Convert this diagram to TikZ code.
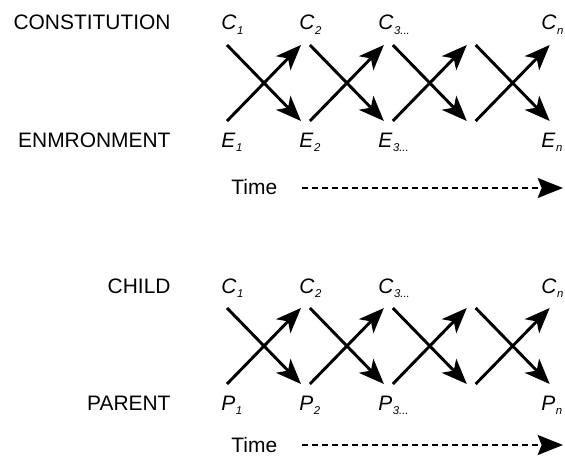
\documentclass[tikz,border=0pt]{standalone}
\usepackage{fontspec}
\setmainfont{Liberation Sans}
\usetikzlibrary{arrows.meta}

\newcommand{\sublab}[2]{\textit{#1}\kern0.3pt\raisebox{-3.4pt}{\fontsize{8.5}{9}\selectfont\textit{#2}}}

\begin{document}
\begin{tikzpicture}[x=0.75pt, y=-0.75pt, line width=2.2pt]
        \tikzstyle{lab}=[inner sep=0, font=\fontsize{15.7}{18}\selectfont];
        \tikzstyle{cross}=[-{Stealth[length=19pt, width=15pt, inset=5pt]}];
        \tikzstyle{time}=[line width=1.6pt, dash pattern=on 4.5pt off 3pt, -{Stealth[length=19pt, width=15pt, inset=3pt]}];

        \useasboundingbox (0,0) rectangle (565,460);

        \foreach \p/\dy/\ty/\up/\lo/\uname/\lname in {1/0/188/C/E/CONSTITUTION/ENMRONMENT, 2/263/445/C/P/CHILD/PARENT}{
          \node[lab, anchor=base east] (upname\p) at (172, {\dy+30}) {\uname};
          \node[lab, anchor=base east] (loname\p) at (172, {\dy+147}) {\lname};
          \foreach \s/\k/\x in {1/1/220, 2/2/298, {3...}/3/377, n/n/540}{
            \node[lab, anchor=base west] (up\p-\k) at (\x, {\dy+30}) {\sublab{\up}{\s}};
            \node[lab, anchor=base west] (lo\p-\k) at (\x, {\dy+147}) {\sublab{\lo}{\s}};
          }
          \foreach \i in {0,...,3}{
            \coordinate (a\p-\i) at ({227+82.9*\i}, {\dy+45});
            \coordinate (b\p-\i) at ({301+82.9*\i}, {\dy+121});
            \coordinate (c\p-\i) at ({227+82.9*\i}, {\dy+121});
            \coordinate (d\p-\i) at ({301+82.9*\i}, {\dy+45});
            \draw[cross] (a\p-\i) -- (b\p-\i);
            \draw[cross] (c\p-\i) -- (d\p-\i);
          }
          \node[lab, anchor=base west] (time\p) at (230, {\ty+7}) {Time};
          \coordinate (ts\p) at (302, \ty);
          \coordinate (te\p) at (563, \ty);
          \draw[time] (ts\p) -- (te\p);
        }
    \end{tikzpicture}
\end{document}
